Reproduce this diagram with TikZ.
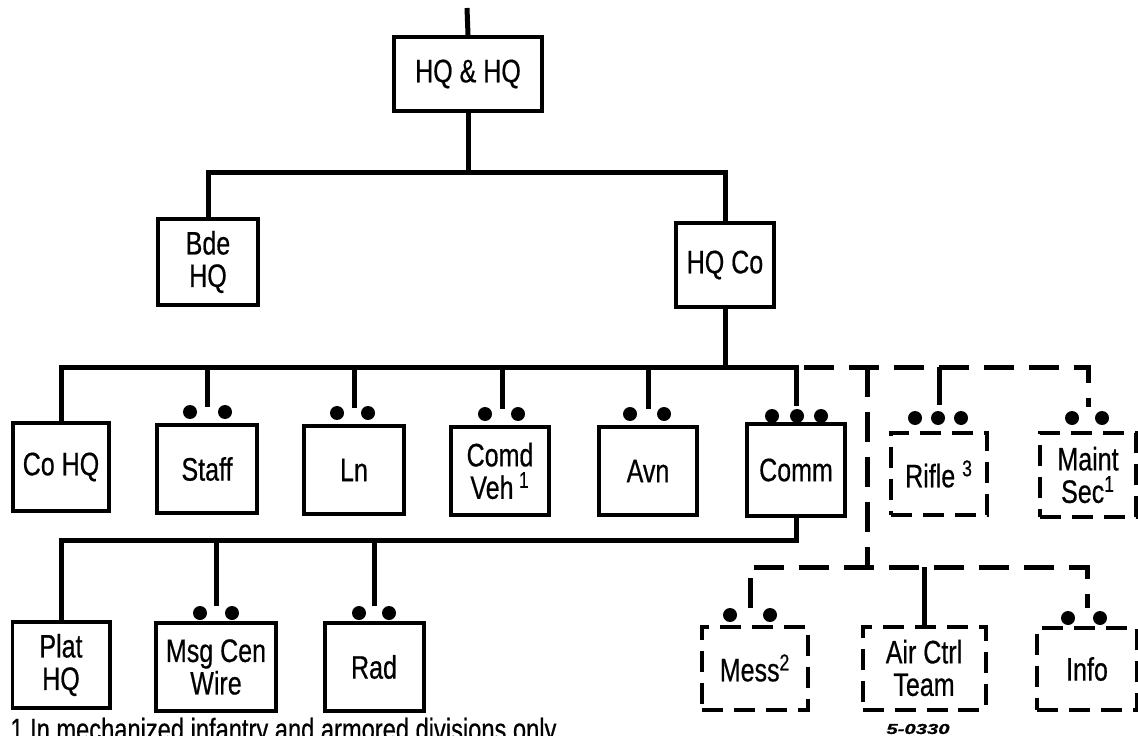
\documentclass[tikz,border=0pt]{standalone}
\usepackage{fontspec}
\setmainfont{Liberation Sans}[FakeStretch=0.77,FakeBold=0.5]
\usetikzlibrary{calc}
\begin{document}
\begin{tikzpicture}[x=0.02cm,y=-0.02cm,
  lbl/.style={font=\fontsize{18.5}{18.5}\selectfont, align=center, inner sep=0pt},
  bx/.style n args={2}{lbl, draw, line width=0.08cm, minimum width=#1*0.02cm, minimum height=#2*0.02cm},
  dbx/.style n args={2}{bx={#1}{#2}, dash pattern=on 0.42cm off 0.22cm},
  conn/.style={line width=0.1cm},
  dconn/.style={line width=0.1cm, dash pattern=on 0.6cm off 0.3cm},
  blob/.style={circle, fill, inner sep=0pt, minimum size=0.28cm},
]
\useasboundingbox (0,0) rectangle (1138,736);
\clip (0,0) rectangle (1138,736);

% level 1
\coordinate (top) at (467,8);
\node[bx={148}{74}] (hqhq) at (468,74) {HQ \& HQ};
\node[bx={100}{86}] (bde) at (208,262) {Bde\\HQ};
\node[bx={98}{84}] (hqco) at (725,265) {HQ Co};
\coordinate (j1) at (468,173);
\draw[conn] (top) -- (hqhq.north);
\draw[conn] (hqhq.south) -- (j1);
\draw[conn] (bde.north) -- (bde.north |- j1) -- (hqco.north |- j1) -- (hqco.north);

% level 2
\coordinate (j2) at (0,367);
\node[bx={96}{88}] (cohq) at (61,467) {Co HQ};
\node[bx={100}{88}] (staff) at (207,469) {Staff};
\node[bx={100}{88}] (ln) at (354,470) {Ln};
\node[bx={98}{88}] (comd) at (500,471) {Comd\\Veh\,\textsuperscript{1}};
\node[bx={98}{88}] (avn) at (648,471) {Avn};
\node[bx={98}{92}] (comm) at (796,470) {Comm};
\node[dbx={96}{82}] (rifle) at (939,474) {Rifle \textsuperscript{3}};
\node[dbx={96}{84}] (maint) at (1088,475) {Maint\\Sec\textsuperscript{1}};

\coordinate (staffc) at (207,407);
\coordinate (lnc) at (354,408);
\coordinate (comdc) at (502,409);
\coordinate (avnc) at (648,409);
\coordinate (commc) at (796,406);
\coordinate (riflec) at (939,405);
\coordinate (maintc) at (1088,407);

\node[blob] (s1) at (190,412) {}; \node[blob] (s2) at (225,412) {};
\node[blob] (l1) at (337,413) {}; \node[blob] (l2) at (368,413) {};
\node[blob] (c1) at (485,414) {}; \node[blob] (c2) at (518,414) {};
\node[blob] (a1) at (630,414) {}; \node[blob] (a2) at (664,414) {};
\node[blob] (m1) at (772,416) {}; \node[blob] (m2) at (797,416) {}; \node[blob] (m3) at (821,416) {};
\node[blob] (r1) at (915,418) {}; \node[blob] (r2) at (938,418) {}; \node[blob] (r3) at (961,418) {};
\node[blob] (t1) at (1072,418) {}; \node[blob] (t2) at (1102,418) {};

\draw[conn] (hqco.south) -- (hqco.south |- j2);
\draw[conn] (cohq.north) -- (cohq.north |- j2) -- (commc |- j2) -- (commc);
\draw[conn] (staffc |- j2) -- (staffc);
\draw[conn] (lnc |- j2) -- (lnc);
\draw[conn] (comdc |- j2) -- (comdc);
\draw[conn] (avnc |- j2) -- (avnc);
\draw[dconn] (commc |- j2) ++(8,0) -- (maintc |- j2) -- (maintc);
\draw[conn] (riflec |- j2) -- (riflec);

% level 3 (Comm)
\coordinate (j4) at (0,540);
\node[bx={97}{86}] (plat) at (61,665) {Plat\\HQ};
\node[bx={120}{88}] (msg) at (216,667) {Msg Cen\\Wire};
\node[bx={99}{88}] (rad) at (374,667) {Rad};
\coordinate (msgc) at (216,606);
\coordinate (radc) at (374,606);
\node[blob] (g1) at (200,613) {}; \node[blob] (g2) at (232,613) {};
\node[blob] (d1) at (359,613) {}; \node[blob] (d2) at (389,613) {};
\draw[conn] (comm.south) -- (comm.south |- j4) -- (plat.north |- j4) -- (plat.north);
\draw[conn] (msgc |- j4) -- (msgc);
\draw[conn] (radc |- j4) -- (radc);

% dashed lower group
\coordinate (j3) at (867,567);
\node[dbx={106}{83}] (mess) at (755,668) {Mess\textsuperscript{2}};
\node[dbx={123}{83}] (air) at (924,668) {Air Ctrl\\Team};
\node[dbx={100}{82}] (info) at (1087,669) {Info};
\coordinate (messc) at (750,608);
\coordinate (infoc) at (1087,608);
\node[blob] (e1) at (730,615) {}; \node[blob] (e2) at (770,615) {};
\node[blob] (f1) at (1068,618) {}; \node[blob] (f2) at (1100,618) {};
\draw[dconn] (j3 |- j2) -- (j3);
\draw[dconn] (messc) -- (messc |- j3) -- (infoc |- j3) -- (infoc);
\draw[conn] (air.north |- j3) -- (air.north);

% texts
\node[inner sep=0pt, anchor=base west, font=\fontsize{17.5}{18}\selectfont] (fn) at (10,740) {1 In mechanized infantry and armored divisions only.};
\node[inner sep=0pt] (code) at (918,729) {\scalebox{2}[1.1]{\fontsize{7.5}{8}\selectfont\bfseries\itshape 5-0330}};
\end{tikzpicture}
\end{document}
